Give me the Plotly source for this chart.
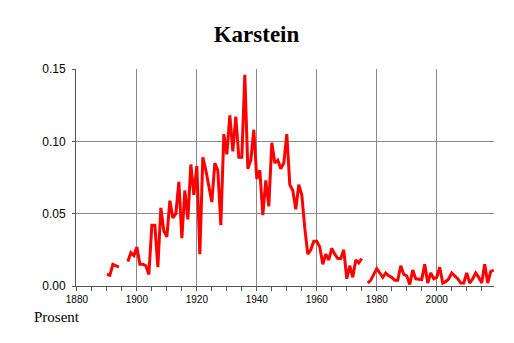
import plotly.graph_objects as go

years = list(range(1890, 2020))

# values per year (None = missing)
seg1 = [0.008, 0.0075, 0.015, 0.014, 0.013]              # 1890-1894
gap1 = [None, None]                                        # 1895-1896
seg2 = [0.017, 0.023, 0.021, 0.027, 0.015, 0.015, 0.014, 0.008,  # 1897-1904
        0.042, 0.042, 0.013, 0.054, 0.038, 0.034, 0.059, 0.047,  # 1905-1912
        0.050, 0.072, 0.033, 0.066, 0.046, 0.084, 0.063, 0.083,  # 1913-1920
        0.022, 0.089, 0.080, 0.070, 0.058, 0.085, 0.080, 0.042,  # 1921-1928
        0.105, 0.091, 0.118, 0.093, 0.117, 0.089, 0.089, 0.146,  # 1929-1936
        0.081, 0.087, 0.108, 0.074, 0.080, 0.049, 0.073, 0.055,  # 1937-1944
        0.099, 0.085, 0.087, 0.081, 0.085, 0.105, 0.070, 0.066,  # 1945-1952
        0.053, 0.070, 0.063, 0.040, 0.022, 0.025, 0.031, 0.031,  # 1953-1960
        0.027, 0.015, 0.022, 0.018, 0.026, 0.022, 0.019, 0.019,  # 1961-1968
        0.025, 0.005, 0.014, 0.006, 0.018, 0.016, 0.019]         # 1969-1975
gap2 = [None]                                              # 1976
seg3 = [0.002, 0.004, 0.008, 0.012, 0.009, 0.006, 0.009, 0.007,  # 1977-1984
        0.006, 0.004, 0.004, 0.014, 0.008, 0.007, 0.001, 0.011,  # 1985-1992
        0.005, 0.0045, 0.0045, 0.015, 0.002, 0.009, 0.005, 0.006,  # 1993-2000
        0.013, 0.002, 0.003, 0.005, 0.009, 0.007, 0.005, 0.002,  # 2001-2008
        0.002, 0.009, 0.002, 0.005, 0.009, 0.006, 0.002, 0.015,  # 2009-2016
        0.002, 0.010, 0.011]                                     # 2017-2019
values = seg1 + gap1 + seg2 + gap2 + seg3

x_ticks = [1880, 1900, 1920, 1940, 1960, 1980, 2000]
y_ticks = [0.0, 0.05, 0.10, 0.15]
y_ticklabels = ["0.00", "0.05", "0.10", "0.15"]

fig = go.Figure()
fig.add_trace(go.Scatter(x=years, y=values, mode="lines",
                         line=dict(color="#ff0000", width=3),
                         connectgaps=False, hoverinfo="skip"))

# page body has an 8px margin, so the figure is offset by (8, 8) in the window
fig.update_layout(
    width=514, height=343,
    margin=dict(l=68, r=28, t=61, b=65),
    paper_bgcolor="white", plot_bgcolor="white",
    showlegend=False,
    title=dict(text="<b>Karstein</b>", x=248.5 / 514, xref="container", xanchor="center",
               y=1 - 26 / 343, yref="container", yanchor="middle",
               font=dict(family="Liberation Serif", size=23, color="black")),
    font=dict(family="Liberation Sans", color="black"),
)
fig.update_xaxes(range=[1879.7, 2019.1], tickvals=x_ticks, ticktext=[str(v) for v in x_ticks],
                 showgrid=True, gridcolor="#8a8a8a", gridwidth=1,
                 showline=True, linecolor="#555555", linewidth=1,
                 ticks="outside", ticklen=4, tickcolor="#555555",
                 minor=dict(dtick=5, tick0=1880, ticks="outside", ticklen=4, tickcolor="#555555", showgrid=False),
                 tickfont=dict(size=10, family="Liberation Sans"), zeroline=False)
fig.update_yaxes(range=[0, 0.15], tickvals=y_ticks, ticktext=y_ticklabels,
                 showgrid=True, gridcolor="#8a8a8a", gridwidth=1,
                 showline=True, linecolor="#555555", linewidth=1,
                 ticks="outside", ticklen=3, tickcolor="#555555",
                 ticklabelstandoff=4,
                 tickfont=dict(size=12, family="Liberation Sans"), zeroline=False)

fig.add_annotation(text="Prosent", xref="paper", yref="paper",
                   x=(24 - 68) / 418, xanchor="left",
                   y=-(309 - 278) / 217, yanchor="middle", showarrow=False,
                   font=dict(family="Liberation Serif", size=15, color="black"))

fig.write_html("out.html")
